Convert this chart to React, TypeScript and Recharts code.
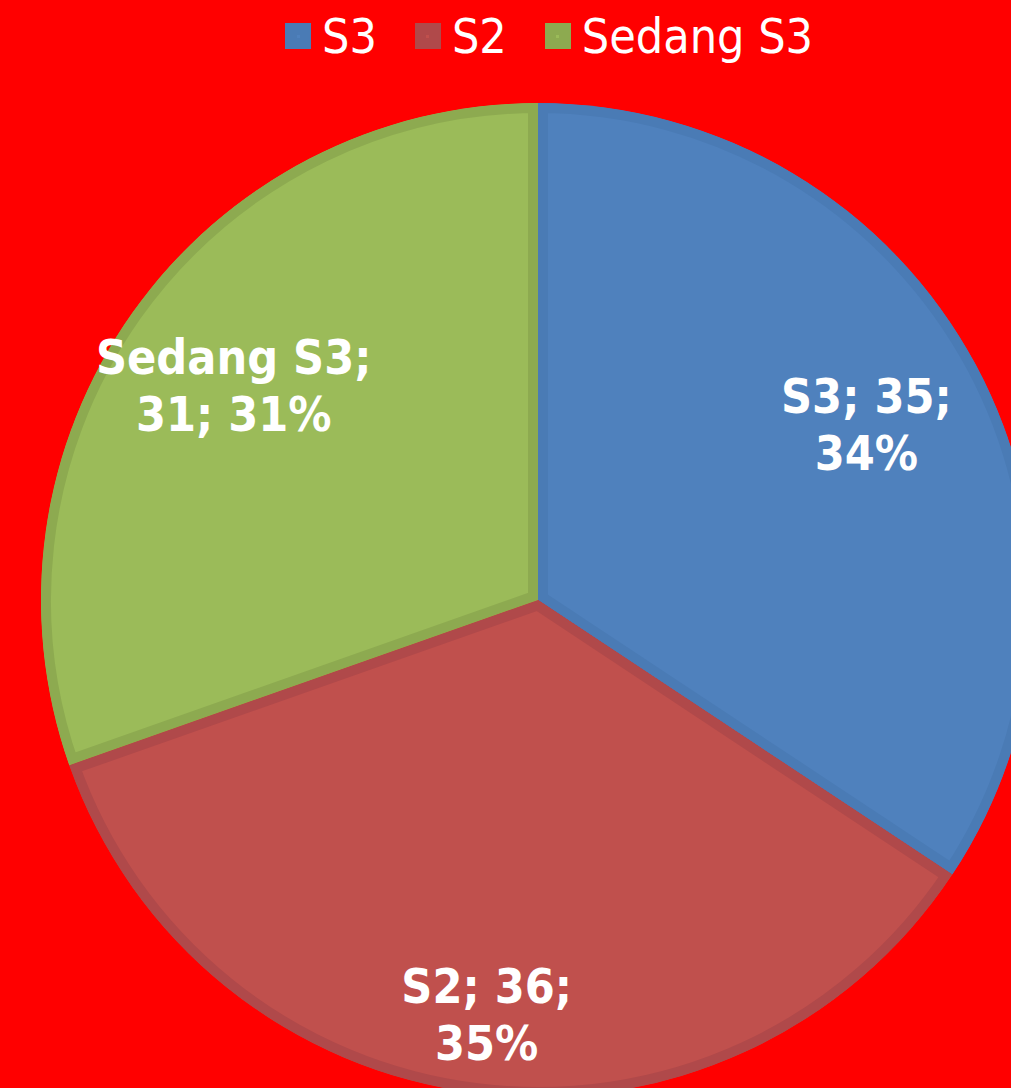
import { PieChart, Pie, Cell, Sector, Legend } from "recharts";

const categories = ["S3", "S2", "Sedang S3"];
const values = [35, 36, 31];
const percentLabels = [34, 35, 31];

const fills = ["#4F81BD", "#C0504D", "#9BBB59"];
const borders = ["#4A7BB5", "#B0494A", "#8DAA50"];

const data = categories.map((name, i) => ({ name, value: values[i], pct: percentLabels[i] }));

const FONT = "'DejaVu Sans Condensed', 'DejaVu Sans', sans-serif";
const RAD = Math.PI / 180;
const LEGEND_H = 76;

// inset border: stroke clipped to the slice itself
const InsetSector = (props: any) => {
     const { cx, cy, innerRadius, outerRadius, startAngle, endAngle, fill, stroke } = props;
     const id = `clip-${Math.round(startAngle * 100)}`;
     const geom = { cx, cy, innerRadius, outerRadius, startAngle, endAngle };
     return (
          <g>
               <defs>
                    <clipPath id={id}>
                         <Sector {...geom} />
                    </clipPath>
               </defs>
               <Sector {...geom} fill={fill} stroke={stroke} strokeWidth={20} clipPath={`url(#${id})`} />
          </g>
     );
};

const labelRadius = [0.75, 0.84, 0.75];

const renderLabel = (props: any) => {
     const { cx, cy, midAngle, outerRadius, index, name, value, payload } = props;
     const pct = payload?.pct ?? payload?.payload?.pct;
     const r = outerRadius * labelRadius[index];
     const x = cx + r * Math.cos(-midAngle * RAD);
     const y = cy + r * Math.sin(-midAngle * RAD);
     const long = name.length > 3;
     const line1 = long ? `${name};` : `${name}; ${value};`;
     const line2 = long ? `${value}; ${pct}%` : `${pct}%`;
     return (
          <text
               x={x}
               y={y}
               fill="#FFFFFF"
               textAnchor="middle"
               fontFamily={FONT}
               fontWeight="bold"
               fontSize={48}
          >
               <tspan x={x} dy={-11}>{line1}</tspan>
               <tspan x={x} dy={57}>{line2}</tspan>
          </text>
     );
};

const renderLegend = () => (
     <div
          style={{
               display: "flex",
               justifyContent: "flex-start",
               alignItems: "center",
               height: LEGEND_H,
               fontFamily: FONT,
               fontSize: 48,
               color: "#FFFFFF",
               paddingLeft: 285,
               boxSizing: "border-box",
               marginTop: -2,
          }}
     >
          {categories.map((c, i) => (
               <div key={c} style={{ display: "flex", alignItems: "center", marginRight: 38 }}>
                    <span
                         style={{
                              width: 26,
                              height: 26,
                              background: borders[i],
                              display: "inline-flex",
                              alignItems: "center",
                              justifyContent: "center",
                              marginRight: 11,
                         }}
                    >
                         <span style={{ width: 3, height: 3, background: fills[i] }} />
                    </span>
                    <span style={{ lineHeight: "48px" }}>{c}</span>
               </div>
          ))}
     </div>
);

export default function App() {
     return (
          <div style={{ position: "absolute", left: 0, top: 0, width: 1011, height: 1088, background: "#FF0000", overflow: "hidden" }}>
               <PieChart width={1011} height={1088} margin={{ top: 0, right: 0, bottom: 0, left: 0 }}>
                    <Legend
                         verticalAlign="top"
                         height={LEGEND_H}
                         content={renderLegend}
                         wrapperStyle={{ top: 0, left: 0, width: 1011 }}
                    />
                    <Pie
                         data={data}
                         dataKey="value"
                         nameKey="name"
                         cx={538}
                         cy={600 - LEGEND_H}
                         outerRadius={497}
                         startAngle={90}
                         endAngle={-270}
                         shape={InsetSector}
                         label={renderLabel}
                         labelLine={false}
                         isAnimationActive={false}
                    >
                         {data.map((d, i) => (
                              <Cell key={d.name} fill={fills[i]} stroke={borders[i]} />
                         ))}
                    </Pie>
               </PieChart>
          </div>
     );
}
